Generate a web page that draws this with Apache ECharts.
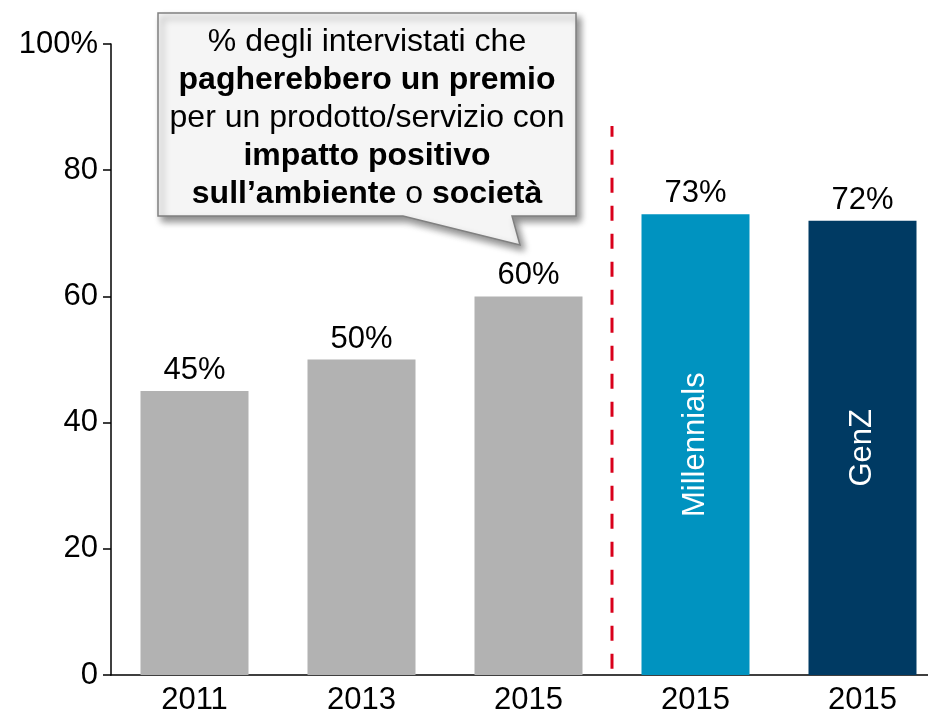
<!DOCTYPE html>
<html>
<head>
<meta charset="utf-8">
<script src="https://cdn.jsdelivr.net/npm/echarts@6/dist/echarts.min.js"></script>
<style>
  html, body { margin: 0; padding: 0; background: #fff; }
  #chart { width: 928px; height: 713px; }
</style>
</head>
<body>
<div id="chart"></div>
<script>
const categories = ["2011", "2013", "2015", "2015", "2015"];
const values = [45, 50, 60, 73, 72];
const barColors = ["#b2b2b2", "#b2b2b2", "#b2b2b2", "#0093c0", "#003a63"];
const groupNames = ["", "", "", "Millennials", "GenZ"];
// divider sits on the boundary between the 3rd and 4th category
const dividerX = 3;
const dividerSpan = [1, 87];

const font = '"Liberation Sans", Arial, sans-serif';

const chart = echarts.init(document.getElementById("chart"));

const option = {
  animation: false,
  grid: { left: 111, right: -18, top: 44, bottom: 38, outerBoundsMode: "none", containLabel: false },
  xAxis: [
    {
      type: "category",
      data: categories,
      axisLine: { lineStyle: { color: "#000", width: 1.5 } },
      axisTick: { show: false },
      axisLabel: { color: "#000", fontSize: 31, fontFamily: font, margin: 10 },
    },
    { type: "value", min: 0, max: 5, show: false },
  ],
  yAxis: {
    type: "value",
    min: 0,
    max: 100,
    interval: 20,
    splitLine: { show: false },
    axisLine: { show: true, lineStyle: { color: "#000", width: 1.5 } },
    axisTick: { show: true, length: 8, lineStyle: { color: "#000", width: 1.5 } },
    axisLabel: {
      color: "#000",
      fontSize: 31,
      fontFamily: font,
      margin: 13,
      formatter: (v) => (v === 100 ? "100%" : String(v)),
    },
  },
  series: [
    {
      type: "bar",
      barWidth: 108,
      data: values.map((v, i) => ({ value: v, itemStyle: { color: barColors[i] } })),
      label: {
        show: true,
        position: "top",
        distance: 5,
        color: "#000",
        fontSize: 31,
        fontFamily: font,
        formatter: "{c}%",
      },
    },
    {
      type: "bar",
      barWidth: 108,
      barGap: "-100%",
      silent: true,
      itemStyle: { color: "transparent" },
      data: values,
      label: {
        show: true,
        position: "inside",
        rotate: 90,
        color: "#fff",
        fontSize: 31,
        fontFamily: font,
        formatter: (p) => groupNames[p.dataIndex],
      },
    },
    {
      type: "line",
      xAxisIndex: 1,
      symbol: "none",
      silent: true,
      data: [[dividerX, dividerSpan[0]], [dividerX, dividerSpan[1]]],
      lineStyle: { color: "#d9001b", width: 3, type: [15, 13] },
    },
  ],
  graphic: [
    {
      type: "polygon",
      z: 10,
      shape: {
        points: [[158, 13], [576, 13], [576, 216], [512, 216], [520, 245], [403, 216], [158, 216]],
      },
      style: {
        fill: "#f5f5f5",
        stroke: "#808080",
        lineWidth: 1.5,
        shadowBlur: 7,
        shadowOffsetX: 4,
        shadowOffsetY: 5,
        shadowColor: "rgba(0,0,0,0.45)",
      },
    },
    {
      type: "text",
      z: 11,
      x: 367,
      y: 118,
      style: {
        text:
          "% degli intervistati che\n{b|pagherebbero un premio}\nper un prodotto/servizio con\n{b|impatto positivo}\n{b|sull\u2019ambiente} o {b|società}",
        align: "center",
        verticalAlign: "middle",
        fontSize: 32,
        fontFamily: font,
        lineHeight: 38,
        fill: "#000",
        rich: {
          b: { fontWeight: "bold", fontSize: 32, fontFamily: font, lineHeight: 38 },
        },
      },
    },
  ],
};

chart.setOption(option);
</script>
</body>
</html>
